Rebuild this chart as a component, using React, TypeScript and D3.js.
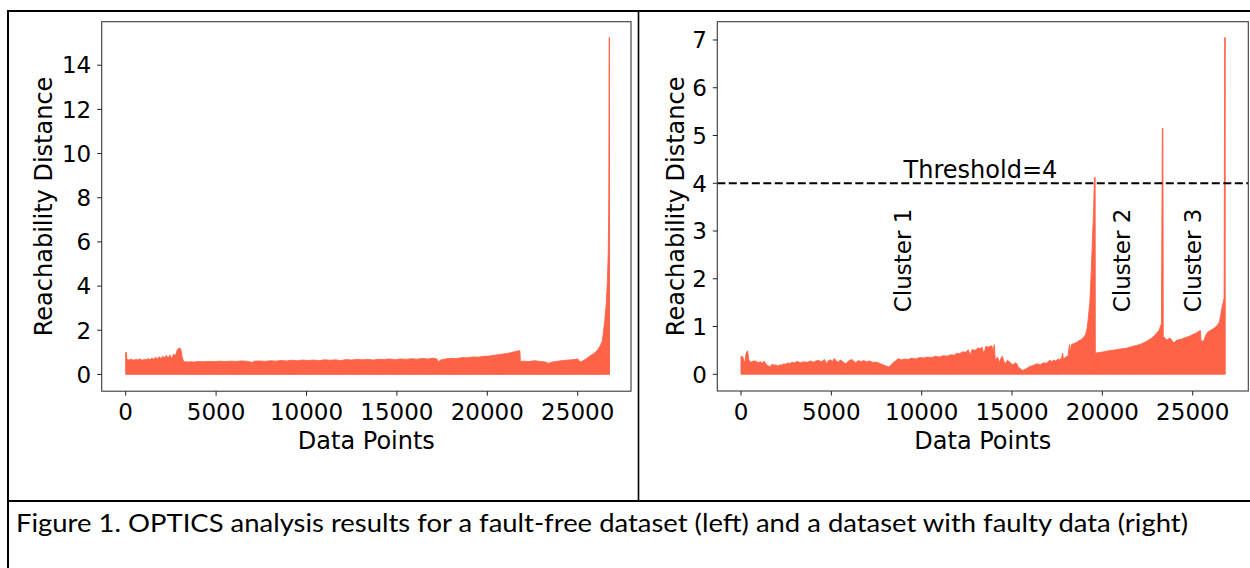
import React from "react";
import * as d3 from "d3";

const xTicks = [0, 5000, 10000, 15000, 20000, 25000];
const leftYTicks = [0, 2, 4, 6, 8, 10, 12, 14];
const rightYTicks = [0, 1, 2, 3, 4, 5, 6, 7];

// [data point index, reachability distance] — fault-free dataset
const leftReach: [number, number][] = [
  [0, 1.0], [40, 1.0], [60, 0.68], [200, 0.65], [300, 0.7], [400, 0.64], [550, 0.67], [700, 0.66],
  [800, 0.71], [900, 0.63], [1000, 0.68], [1150, 0.66], [1250, 0.72], [1350, 0.65], [1450, 0.74],
  [1550, 0.68], [1650, 0.78], [1750, 0.7], [1850, 0.8], [1950, 0.72], [2050, 0.82], [2150, 0.75],
  [2250, 0.86], [2350, 0.74], [2450, 0.88], [2550, 0.7], [2650, 0.92], [2750, 0.85], [2850, 1.1],
  [2950, 1.2], [3050, 1.15], [3120, 0.8], [3200, 0.58], [3400, 0.56], [3600, 0.57], [3800, 0.56],
  [4000, 0.58], [4300, 0.57], [4600, 0.59], [4900, 0.58], [5200, 0.6], [5500, 0.58], [5800, 0.6],
  [6100, 0.59], [6400, 0.61], [6700, 0.6], [7000, 0.54], [7100, 0.6], [7400, 0.61], [7700, 0.59],
  [8000, 0.62], [8300, 0.6], [8600, 0.63], [8900, 0.61], [9200, 0.64], [9500, 0.62], [9800, 0.65],
  [10100, 0.63], [10400, 0.65], [10700, 0.62], [11000, 0.66], [11300, 0.64], [11600, 0.66],
  [11900, 0.63], [12200, 0.67], [12500, 0.65], [12800, 0.68], [13100, 0.66], [13400, 0.68],
  [13700, 0.65], [14000, 0.69], [14300, 0.67], [14600, 0.7], [14900, 0.66], [15200, 0.7],
  [15500, 0.68], [15800, 0.71], [16100, 0.69], [16400, 0.72], [16700, 0.7], [17000, 0.73],
  [17200, 0.71], [17300, 0.56], [17400, 0.65], [17700, 0.7], [18000, 0.73], [18300, 0.72],
  [18600, 0.76], [18900, 0.75], [19200, 0.79], [19500, 0.78], [19800, 0.82], [20100, 0.83],
  [20400, 0.87], [20700, 0.9], [21000, 0.94], [21300, 0.98], [21550, 1.04], [21750, 1.07],
  [21800, 1.07], [21830, 0.58], [22000, 0.6], [22300, 0.58], [22600, 0.62], [22900, 0.59],
  [23200, 0.56], [23400, 0.5], [23600, 0.56], [23900, 0.6], [24200, 0.63], [24500, 0.65],
  [24800, 0.67], [25000, 0.7], [25150, 0.56], [25300, 0.62], [25500, 0.72], [25700, 0.85],
  [25900, 0.95], [26100, 1.1], [26250, 1.3], [26360, 1.5], [26420, 1.9], [26500, 2.45],
  [26580, 3.2], [26640, 4.2], [26690, 5.5], [26720, 8.0], [26740, 15.25], [26760, 15.25],
];

// [data point index, reachability distance] — dataset with faulty data
const rightReach: [number, number][] = [
  [0, 0.37], [60, 0.37], [110, 0.36], [170, 0.23], [230, 0.3], [280, 0.44], [365, 0.49], [430, 0.3],
  [540, 0.25], [700, 0.28], [860, 0.27], [960, 0.24], [1075, 0.26], [1180, 0.23], [1290, 0.28],
  [1400, 0.2], [1500, 0.18], [1610, 0.16], [1720, 0.21], [1830, 0.19], [1940, 0.2], [2040, 0.17],
  [2150, 0.2], [2260, 0.19], [2370, 0.22], [2470, 0.21], [2600, 0.24], [2700, 0.22], [2800, 0.25],
  [2950, 0.24], [3120, 0.27], [3280, 0.24], [3440, 0.26], [3650, 0.25], [3870, 0.28], [4000, 0.25],
  [4150, 0.28], [4300, 0.29], [4450, 0.26], [4620, 0.31], [4730, 0.22], [4850, 0.29], [4950, 0.3],
  [5060, 0.27], [5160, 0.33], [5270, 0.28], [5380, 0.25], [5490, 0.3], [5590, 0.28], [5700, 0.24],
  [5810, 0.22], [5950, 0.28], [6130, 0.31], [6250, 0.27], [6350, 0.24], [6500, 0.29], [6650, 0.26],
  [6780, 0.29], [6950, 0.26], [7100, 0.28], [7300, 0.25], [7530, 0.25], [7700, 0.22], [7850, 0.2],
  [8000, 0.18], [8170, 0.15], [8300, 0.2], [8390, 0.23], [8550, 0.28], [8710, 0.33], [8870, 0.3],
  [9030, 0.32], [9250, 0.31], [9460, 0.34], [9650, 0.32], [9890, 0.35], [10100, 0.34], [10320, 0.36],
  [10550, 0.35], [10760, 0.38], [10980, 0.36], [11190, 0.39], [11400, 0.38], [11620, 0.41],
  [11800, 0.4], [11940, 0.44], [12100, 0.43], [12260, 0.47], [12420, 0.46], [12580, 0.51],
  [12690, 0.4], [12800, 0.52], [12950, 0.5], [13120, 0.55], [13250, 0.54], [13340, 0.57],
  [13440, 0.42], [13550, 0.58], [13700, 0.57], [13870, 0.6], [13950, 0.5], [14020, 0.62],
  [14070, 0.3], [14200, 0.36], [14300, 0.25], [14380, 0.33], [14460, 0.38], [14550, 0.27],
  [14630, 0.22], [14740, 0.29], [14840, 0.27], [14950, 0.22], [15060, 0.2], [15160, 0.24],
  [15270, 0.22], [15350, 0.15], [15440, 0.12], [15520, 0.1], [15600, 0.08], [15700, 0.1],
  [15810, 0.12], [15950, 0.16], [16130, 0.18], [16250, 0.2], [16370, 0.22], [16560, 0.2],
  [16740, 0.24], [16900, 0.23], [16990, 0.26], [17100, 0.3], [17200, 0.26], [17300, 0.3],
  [17420, 0.28], [17550, 0.32], [17650, 0.3], [17750, 0.35], [17800, 0.44], [17850, 0.3],
  [17960, 0.36], [18100, 0.38], [18180, 0.62], [18230, 0.45], [18280, 0.62], [18400, 0.64],
  [18550, 0.66], [18700, 0.7], [18800, 0.72], [18930, 0.76], [19070, 0.83], [19150, 0.95],
  [19200, 1.1], [19310, 1.52], [19390, 2.2], [19460, 2.9], [19520, 3.5], [19560, 4.12],
  [19600, 4.12], [19610, 0.44], [19720, 0.45], [19900, 0.46], [20090, 0.47], [20300, 0.49],
  [20460, 0.5], [20700, 0.51], [21010, 0.53], [21200, 0.54], [21380, 0.55], [21550, 0.57],
  [21750, 0.59], [21950, 0.61], [22120, 0.63], [22300, 0.66], [22490, 0.7], [22700, 0.75],
  [22860, 0.8], [23000, 0.86], [23140, 0.92], [23270, 1.06], [23320, 5.15], [23350, 5.15],
  [23370, 0.75], [23420, 0.78], [23520, 0.73], [23600, 0.72], [23700, 0.76], [23790, 0.74],
  [23880, 0.69], [23970, 0.65], [24060, 0.7], [24160, 0.72], [24350, 0.73], [24530, 0.76],
  [24700, 0.78], [24900, 0.81], [25100, 0.85], [25270, 0.88], [25420, 0.92], [25460, 0.7],
  [25560, 0.69], [25640, 0.72], [25720, 0.82], [25830, 0.88], [26000, 0.92], [26200, 0.97],
  [26350, 1.02], [26480, 1.1], [26560, 1.25], [26610, 1.38], [26680, 1.5], [26740, 1.6],
  [26770, 7.05], [26800, 7.05],
];

const thresholdValue = 4;
const thresholdLabel = "Threshold=4";
const thresholdLabelAt: [number, number] = [9000, 4.1];
const clusterNames = ["Cluster 1", "Cluster 2", "Cluster 3"];
const clusterX = [9400, 21520, 25460];
const clusterLabelY = 1.3;

const captionText =
  "Figure 1. OPTICS analysis results for a fault-free dataset (left) and a dataset with faulty data (right)";

const FILL = "#ff6347";
const FONT = "DejaVu Sans, sans-serif";

type PanelProps = {
  data: [number, number][];
  xDomain: [number, number];
  xRange: [number, number];
  yDomain: [number, number];
  yRange: [number, number];
  yTicks: number[];
  ylabelX: number;
  children?: (x: d3.ScaleLinear<number, number>, y: d3.ScaleLinear<number, number>) => React.ReactNode;
};

function Panel({ data, xDomain, xRange, yDomain, yRange, yTicks, ylabelX, children }: PanelProps) {
  const x = d3.scaleLinear().domain(xDomain).range(xRange);
  const y = d3.scaleLinear().domain(yDomain).range(yRange);
  const area = d3
    .area<[number, number]>()
    .x((d) => x(d[0]))
    .y0(() => y(0))
    .y1((d) => y(d[1]))
    .curve(d3.curveLinear);
  const [x0, x1] = xRange;
  const [yb, yt] = yRange;
  const cx = (x0 + x1) / 2;
  const cy = (yb + yt) / 2;
  return (
    <g fontFamily={FONT}>
      <path d={area(data) || ""} fill={FILL} stroke={FILL} strokeWidth={0.9} strokeLinejoin="miter" />
      {children ? children(x, y) : null}
      <rect x={x0} y={yt} width={x1 - x0} height={yb - yt} fill="none" stroke="#3a3a3a" strokeWidth={1.1} />
      {yTicks.map((t) => (
        <g key={"y" + t}>
          <line x1={x0 - 4.5} x2={x0} y1={y(t)} y2={y(t)} stroke="#222" strokeWidth={1} />
          <text x={x0 - 10.5} y={y(t)} dy="0.36em" textAnchor="end" fontSize={23} fill="#000">
            {t}
          </text>
        </g>
      ))}
      {xTicks.map((t) => (
        <g key={"x" + t}>
          <line x1={x(t)} x2={x(t)} y1={yb} y2={yb + 4.5} stroke="#222" strokeWidth={1} />
          <text x={x(t)} y={420} textAnchor="middle" fontSize={23} fill="#000">
            {t}
          </text>
        </g>
      ))}
      <text x={cx} y={448.5} textAnchor="middle" fontSize={24} fill="#000">
        Data Points
      </text>
      <text
        transform={`translate(${ylabelX},${cy}) rotate(-90)`}
        textAnchor="middle"
        fontSize={24}
        fill="#000"
      >
        Reachability Distance
      </text>
    </g>
  );
}

export default function App() {
  return (
    <svg
      width={1250}
      height={568}
      viewBox="0 0 1250 568"
      style={{ position: "absolute", left: 0, top: 0, background: "#fff" }}
    >
      <rect x={0} y={0} width={1250} height={568} fill="#fff" />
      {/* table lines */}
      <line x1={7} x2={1250} y1={11} y2={11} stroke="#000" strokeWidth={2.2} />
      <line x1={8} x2={8} y1={10} y2={568} stroke="#000" strokeWidth={2} />
      <line x1={638.5} x2={638.5} y1={11} y2={501} stroke="#000" strokeWidth={1.6} />
      <line x1={7} x2={1250} y1={501} y2={501} stroke="#000" strokeWidth={2.2} />

      <Panel
        data={leftReach}
        xDomain={[-1327, 27948]}
        xRange={[101.7, 631]}
        yDomain={[-0.76, 15.97]}
        yRange={[391.2, 21.7]}
        yTicks={leftYTicks}
        ylabelX={52}
      />
      <Panel
        data={rightReach}
        xDomain={[-1312, 28077]}
        xRange={[717.3, 1248.3]}
        yDomain={[-0.35, 7.383]}
        yRange={[391, 21.7]}
        yTicks={rightYTicks}
        ylabelX={684}
      >
        {(x, y) => (
          <g>
            <line
              x1={717.3}
              x2={1248.3}
              y1={y(thresholdValue)}
              y2={y(thresholdValue)}
              stroke="#000"
              strokeWidth={2}
              strokeDasharray="8 3.5"
            />
            <text x={x(thresholdLabelAt[0])} y={y(thresholdLabelAt[1])} fontSize={24} fill="#000">
              {thresholdLabel}
            </text>
            {clusterNames.map((name, i) => (
              <text
                key={name}
                transform={`translate(${x(clusterX[i])},${y(clusterLabelY)}) rotate(-90)`}
                fontSize={23}
                fill="#000"
              >
                {name}
              </text>
            ))}
          </g>
        )}
      </Panel>

      <text
        x={16}
        y={532}
        fontFamily="Lato, 'Open Sans', sans-serif"
        fontSize={25}
        textLength={1172}
        lengthAdjust="spacingAndGlyphs"
        fill="#000"
      >
        {captionText}
      </text>
    </svg>
  );
}
